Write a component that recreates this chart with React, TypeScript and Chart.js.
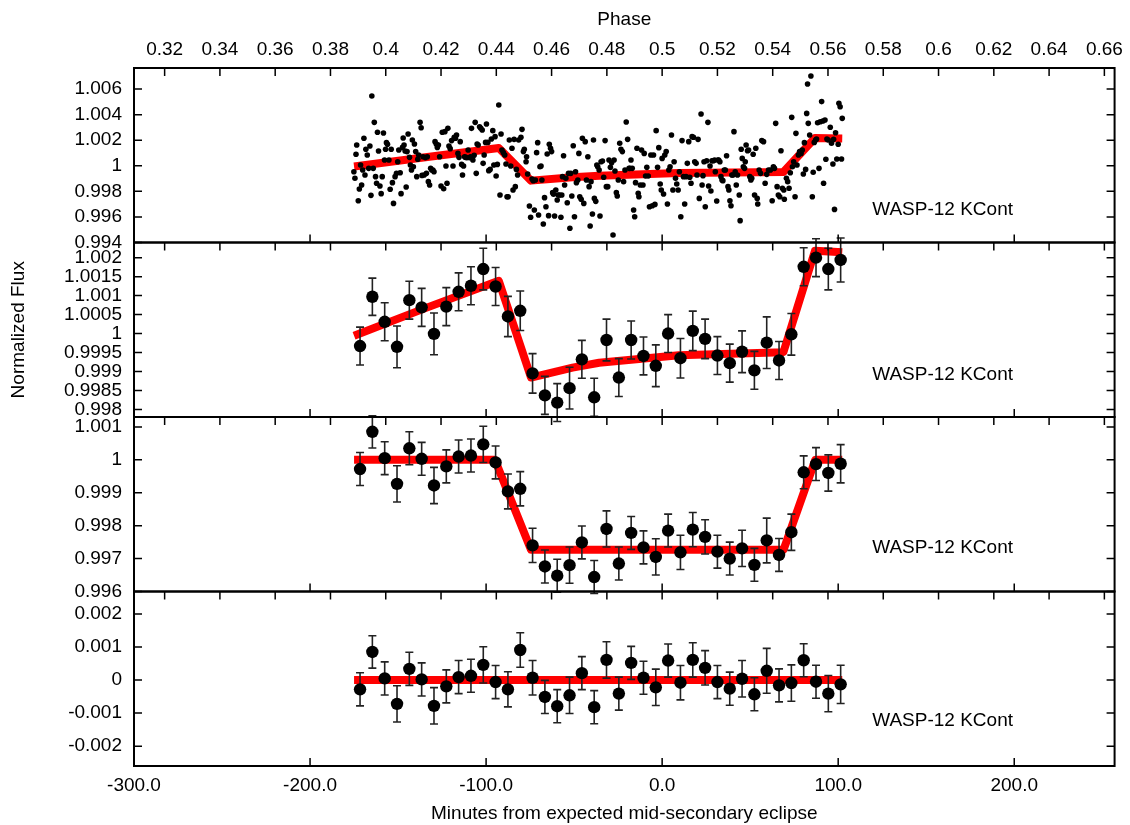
import { useEffect, useRef } from 'react';
import { Chart, registerables } from 'chart.js';

Chart.register(...registerables);

const FONT_FAMILY = "'Liberation Sans', Arial, Helvetica, sans-serif";
const FONT_SIZE = 19;

// ---------- axes ----------
const PERIOD_MIN = 1570; // orbital period in minutes (phase axis mapping)
const X_MIN = -300;
const X_MAX = 257;
const MINUTE_TICKS = [-300, -200, -100, 0, 100, 200];
const PHASE_TICKS = [0.32, 0.34, 0.36, 0.38, 0.4, 0.42, 0.44, 0.46, 0.48, 0.5, 0.52, 0.54, 0.56, 0.58, 0.6, 0.62, 0.64, 0.66];

const Y1_RANGE = [0.994, 1.00765];
const Y2_RANGE = [0.9978, 1.0024];
const Y3_RANGE = [0.996, 1.0013];
const Y4_RANGE = [-0.0026, 0.00268];
const Y1_TICKS = [0.994, 0.996, 0.998, 1, 1.002, 1.004, 1.006];
const Y2_TICKS = [0.998, 0.9985, 0.999, 0.9995, 1, 1.0005, 1.001, 1.0015, 1.002];
const Y3_TICKS = [0.996, 0.997, 0.998, 0.999, 1, 1.001];
const Y4_TICKS = [-0.002, -0.001, 0, 0.001, 0.002];

const PANEL_LABEL = 'WASP-12 KCont';

// ---------- unbinned light curve (minutes, flux) ----------
const RAW_A = [[-175.1,0.99954],[-174.5,0.99902],[-173.9,1.0009],[-173.5,1.00163],[-172.6,0.99727],[-172.0,0.99818],[-171.3,1.00006],[-170.7,0.9985],[-170.1,0.99967],[-169.4,1.00215],[-168.8,0.99928],[-168.3,1.00129],[-167.5,1.00084],[-166.7,0.9998],[-166.0,1.00155],[-165.4,0.99769],[-164.9,1.00546],[-164.1,0.9998],[-163.5,1.0034],[-162.8,0.99915],[-162.2,0.99863],[-161.7,1.00262],[-161.1,1.00116],[-160.3,0.99842],[-159.6,0.99782],[-159.0,0.99915],[-158.3,1.00256],[-157.7,1.00045],[-157.1,1.00129],[-156.6,1.00181],[-156.0,1.00168],[-155.2,1.00045],[-154.5,0.99816],[-153.9,1.00129],[-153.2,0.99868],[-152.6,0.99706],[-151.7,0.99915],[-150.9,0.99941],[-150.2,1.00032],[-149.6,1.00124],[-148.8,0.99946],[-148.3,0.99782],[-147.5,1.00144],[-147.1,1.00217],[-146.6,1.00163],[-146.0,1.00116],[-145.4,0.99834],[-144.9,1.00111],[-144.3,1.00249],[-143.5,1.00066],[-143.0,1.00006],[-142.4,0.99967],[-141.9,1.00202],[-141.3,0.99993],[-140.7,1.0017],[-140.0,1.00111],[-139.4,0.99915],[-138.8,1.00051],[-138.3,1.00084],[-137.5,1.0034],[-136.9,1.00298],[-136.4,0.99925],[-135.8,1.00071],[-135.2,0.99928],[-134.5,1.00064],[-133.9,0.99941],[-133.4,1.00071],[-132.8,0.99876],[-132.1,0.9985],[-131.5,0.9998],[-130.9,0.99967],[-130.2,0.99967],[-129.6,0.99954],[-129.0,1.00189],[-128.3,1.0017],[-127.7,1.00144],[-127.1,1.00163],[-126.4,1.00071],[-125.6,0.99842],[-124.9,1.00262],[-124.1,0.99821],[-123.4,1.00267],[-122.8,0.99998],[-122.2,0.99863],[-121.7,1.00293],[-121.1,1.00155],[-120.4,1.00134],[-119.6,1.00197],[-118.8,0.99998],[-118.1,1.00223],[-117.4,1.00215],[-116.8,1.00241],[-116.0,1.00097],[-115.4,1.00066],[-114.7,1.00189],[-113.9,1.00011],[-113.4,0.99928],[-112.8,0.99998],[-112.2,1.00071],[-111.7,1.00066],[-110.9,1.00064],[-110.2,1.00124],[-109.4,1.00064],[-108.8,1.00071],[-108.3,1.00293],[-107.5,1.00045],[-106.8,1.00082],[-106.2,1.0034],[-105.6,0.99941],[-105.1,1.0017],[-104.5,1.00163],[-103.7,1.00306],[-103.0,1.00293],[-102.2,1.0028],[-101.7,1.00019],[-101.1,1.00084],[-100.3,1.00183],[-99.8,1.00327],[-99.0,1.00183],[-98.5,0.99962],[-97.7,0.99972],[-97.0,1.0021],[-96.2,1.00275],[-95.6,1.00006],[-94.9,1.00228],[-94.3,0.9992],[-93.6,1.00011],[-92.8,1.00476],[-92.1,0.99771],[-91.5,1.00249],[-91.0,1.00124],[-90.2,1.00103],[-89.4,1.00084],[-88.7,1.00014],[-88.1,0.99758],[-87.5,0.99758],[-86.8,1.00202],[-86.0,0.99998],[-85.3,1.00137],[-84.7,0.99811],[-84.1,1.00207],[-83.4,0.99837],[-82.8,0.99972],[-82.1,0.99928],[-81.5,1.00202]];
const RAW_B = [[-80.2,1.00223],[-79.6,1.00285],[-78.8,1.00111],[-78.3,1.00129],[-77.3,1.00032],[-77.0,1.00071],[-76.4,0.99936],[-75.4,0.99685],[-74.7,0.99597],[-73.9,0.99897],[-73.2,0.99884],[-72.6,0.99654],[-72.0,0.99889],[-71.3,1.00103],[-70.7,1.00181],[-70.2,0.99615],[-69.4,0.99993],[-68.8,0.99998],[-68.3,0.99889],[-67.5,0.99545],[-66.8,0.99751],[-66.0,0.9968],[-65.3,1.00092],[-64.5,0.9961],[-64.1,1.00168],[-63.4,1.00137],[-62.8,1.00111],[-62.2,0.9979],[-61.7,0.99777],[-61.1,0.99607],[-60.4,0.99811],[-59.6,0.99732],[-59.0,0.99771],[-58.3,0.99771],[-57.5,0.99597],[-57.0,0.99771],[-56.6,0.99915],[-56.0,1.00079],[-55.4,0.9985],[-54.7,0.99902],[-53.9,0.99711],[-53.2,0.99941],[-52.4,0.99511],[-51.9,0.99941],[-51.3,0.99764],[-50.5,1.00157],[-49.8,0.99602],[-49.2,0.99954],[-48.7,0.99868],[-47.9,0.99889],[-47.3,1.00097],[-46.8,0.99758],[-46.0,0.99738],[-45.3,1.00215],[-44.5,0.99706],[-43.7,1.00189],[-43.0,0.99889],[-42.2,1.00071],[-41.5,0.99837],[-40.9,0.99529],[-40.4,0.99876],[-39.6,0.99623],[-39.0,1.00202],[-38.5,0.99745],[-37.7,0.99722],[-37.1,1.00006],[-36.6,0.99993],[-35.8,0.99967],[-35.3,0.99607],[-34.7,1.00032],[-33.9,1.00037],[-33.2,0.9991],[-32.4,1.00197],[-31.7,0.99837],[-30.9,0.99837],[-30.2,1.00045],[-29.4,0.99988],[-28.7,1.00024],[-27.9,0.99459],[-27.3,1.00045],[-26.8,0.99959],[-26.0,0.9979],[-25.5,0.99764],[-24.9,0.99889],[-24.1,1.00176],[-23.4,1.00129],[-22.6,1.00111],[-21.9,0.99876],[-21.1,0.99967],[-20.4,1.00343],[-19.6,1.00207],[-18.8,0.9998],[-18.3,0.9998],[-17.7,1.00045],[-17.0,0.9998],[-16.2,0.99654],[-15.6,0.99602],[-15.1,0.99868],[-14.3,1.00137],[-13.6,0.99785],[-13.2,0.99758],[-12.4,0.9985],[-11.7,1.00124],[-10.9,0.9985],[-10.2,1.00097],[-9.4,0.9992],[-8.7,0.99988],[-7.9,0.9992],[-7.2,0.9968],[-6.4,1.00084],[-5.6,0.99688],[-4.9,1.00084],[-4.1,0.99698],[-3.4,1.00275],[-2.6,0.99988],[-1.9,1.00142],[-1.1,0.99858],[-0.5,0.99811],[0.0,1.00058],[0.8,0.99779],[1.5,1.00084],[2.3,1.00111],[3.0,0.99701],[3.8,0.99967],[4.5,0.99993],[5.3,1.00241],[6.1,0.99811],[6.8,1.00032],[7.6,0.99902],[8.3,0.99858],[9.1,0.99811],[9.8,0.99954],[10.6,0.99602],[11.3,1.00197],[12.1,0.99915],[12.8,0.99701],[13.6,0.99915],[14.3,1.00019]];
const RAW_C = [[15.1,1.00189],[15.7,0.9991],[16.4,0.99863],[17.0,1.00228],[17.8,1.00223],[18.5,1.00032],[19.3,1.00019],[19.8,0.99928],[20.4,1.00207],[21.1,0.99745],[22.1,1.00405],[22.7,0.9985],[23.2,0.99923],[23.8,1.00032],[24.5,0.9968],[25.3,1.0004],[26.0,1.0034],[26.4,0.99842],[27.2,0.99998],[27.7,0.99803],[28.3,1.0004],[29.1,1.0004],[29.8,1.00045],[30.2,0.99954],[31.0,0.99725],[31.7,1.00045],[32.1,1.00045],[32.8,1.00032],[33.4,0.99915],[34.0,0.99889],[34.5,0.99884],[35.3,0.99967],[35.9,0.99967],[36.6,1.00079],[37.4,0.99837],[37.9,0.99811],[38.5,0.99727],[39.1,0.99688],[39.6,0.99928],[40.2,0.99928],[40.8,1.00267],[41.5,0.99954],[42.1,0.9985],[42.8,0.99928],[43.8,0.99771],[44.3,0.99571],[44.9,1.00129],[45.5,1.00058],[46.1,0.99993],[46.8,0.9998],[47.2,1.00032],[47.7,1.00163],[48.5,1.00118],[49.1,1.00124],[49.8,0.99915],[50.4,0.99889],[50.9,0.99902],[51.7,1.0009],[52.5,0.99771],[53.2,1.00137],[54.0,0.99745],[54.3,0.99701],[55.1,0.99967],[55.9,0.99941],[56.6,1.00197],[57.6,1.00189],[58.5,0.99863],[59.4,0.99933],[60.4,0.99967],[61.5,0.99967],[62.5,0.99727],[63.2,0.99993],[63.8,0.9998],[64.5,1.00332],[65.3,0.99837],[66.0,0.99771],[66.8,0.99758],[67.5,1.00118],[68.3,0.99824],[69.1,0.99811],[69.4,0.99738],[70.6,0.99902],[71.3,0.99876],[72.1,0.99824],[72.8,0.99946],[73.6,1.00379],[74.0,0.99993],[74.7,1.00032],[75.5,0.99758],[76.0,1.00254],[76.6,1.00006],[77.4,1.00084],[78.1,1.00111],[78.9,1.00097],[79.6,1.00124],[80.2,0.99936],[80.8,1.00181],[81.5,0.99972],[82.1,1.0041],[82.6,1.0064],[83.0,1.00332],[83.8,1.00241],[84.5,1.00702],[85.3,0.99758],[85.8,0.99949],[86.4,1.00183],[87.2,1.00202],[87.7,1.0021],[88.3,1.00337],[89.1,0.9998],[89.8,1.00345],[90.6,1.00502],[91.3,1.0035],[91.7,0.99863],[92.5,1.00358],[93.0,1.00051],[93.6,1.0021],[94.3,1.00202],[95.5,1.00301],[96.2,1.00176],[97.0,1.00014],[97.4,1.00207],[97.9,0.99659],[98.5,1.00259],[99.2,1.00053],[100.0,1.00168],[100.4,1.00489],[101.1,1.00462],[101.9,1.00053],[102.3,1.00371]];

// ---------- binned light curve ----------
const BIN_MIN = [-171.6, -164.6, -157.6, -150.6, -143.6, -136.6, -129.6, -122.6, -115.6, -108.6, -101.6, -94.6, -87.6, -80.6, -73.6, -66.6, -59.6, -52.6, -45.6, -38.6, -31.6, -24.6, -17.6, -10.6, -3.6, 3.4, 10.4, 17.4, 24.4, 31.4, 38.4, 45.4, 52.4, 59.4, 66.4, 73.4, 80.4, 87.4, 94.4, 101.4];
const BIN_FLUX = [0.99967, 1.00097, 1.00031, 0.99965, 1.00088, 1.00069, 0.99999, 1.00071, 1.0011, 1.00126, 1.0017, 1.00124, 1.00045, 1.0006, 0.99895, 0.99837, 0.99818, 0.99856, 0.99932, 0.99832, 0.99983, 0.99884, 0.99983, 0.99941, 0.99915, 1.0, 0.99935, 1.00007, 0.99986, 0.99942, 0.99922, 0.99952, 0.99903, 0.99976, 0.99929, 0.99998, 1.00176, 1.002, 1.0017, 1.00194];
const BIN_DETRENDED = [0.99972, 1.00085, 1.00005, 0.99927, 1.00035, 1.00003, 0.99922, 0.9998, 1.0001, 1.00013, 1.00047, 0.99992, 0.99904, 0.99912, 0.9974, 0.99676, 0.99648, 0.9968, 0.99749, 0.99644, 0.9979, 0.99685, 0.99778, 0.99734, 0.99705, 0.99785, 0.99719, 0.99788, 0.99766, 0.99721, 0.997, 0.99731, 0.99681, 0.99755, 0.99711, 0.9978, 0.99962, 0.99987, 0.9996, 0.99988];
const BIN_RESID = [-0.00028, 0.00085, 0.00005, -0.00072, 0.00034, 0.00002, -0.00078, -0.00019, 0.00009, 0.00013, 0.00046, -0.00006, -0.00028, 0.00091, 0.00007, -0.00051, -0.00079, -0.00046, 0.00021, -0.00082, 0.00061, -0.00041, 0.00052, 0.00007, -0.00022, 0.00059, -0.00008, 0.00061, 0.00037, -0.00006, -0.00026, 0.00004, -0.00043, 0.00028, -0.00016, -0.00009, 0.0006, -0.00005, -0.00041, -0.00013];
const BIN_ERR = [0.0005, 0.00049, 0.0005, 0.00055, 0.0005, 0.0005, 0.00055, 0.0005, 0.0005, 0.0005, 0.00055, 0.0005, 0.00053, 0.00052, 0.00052, 0.0005, 0.0005, 0.00055, 0.0005, 0.0005, 0.00055, 0.0005, 0.0005, 0.0005, 0.00055, 0.0005, 0.00052, 0.00052, 0.00052, 0.0005, 0.0005, 0.00055, 0.0005, 0.00068, 0.0005, 0.00055, 0.0005, 0.0005, 0.00055, 0.00058];

// ---------- fitted models ----------
const MODEL_MIN = [-175, -135.6, -92.8, -74.5, -50.9, -35.8, 9.5, 68.9, 86.8, 102.3];
const MODEL_FLUX = [0.99994, 1.00065, 1.00139, 0.99884, 0.9991, 0.99923, 0.99943, 0.99951, 1.00218, 1.00214];
const ECLIPSE_MIN = [-175, -95, -74.5, 69, 87, 102.3];
const ECLIPSE_FLUX = [1, 1, 0.99727, 0.99727, 1, 1];
const RESID_MODEL_MIN = [-175, 102.3];
const RESID_MODEL_FLUX = [0, 0];

// label vertical position inside each panel (fraction of panel height from top)
const LABEL_FRAC = [0.814, 0.759, 0.751, 0.742];

const pairs = (xs: number[], ys: number[]) => xs.map((x, i) => ({ x, y: ys[i] }));
const fmtG = (v: number) => String(Number(Number(v).toPrecision(6)));

const PANELS = [
  { axis: 'y1', range: Y1_RANGE, ticks: Y1_TICKS },
  { axis: 'y2', range: Y2_RANGE, ticks: Y2_TICKS },
  { axis: 'y3', range: Y3_RANGE, ticks: Y3_TICKS },
  { axis: 'y4', range: Y4_RANGE, ticks: Y4_TICKS },
];

const ERROR_SETS: Record<string, number[]> = { y2: BIN_FLUX, y3: BIN_DETRENDED, y4: BIN_RESID };

const framePlugin = {
  id: 'gnuFrames',
  afterDatasetDraw(chart: any, args: any) {
    const ds = chart.data.datasets[args.index];
    if (!ds.isModel) return;
    const axis = ds.yAxisID;
    const vals = ERROR_SETS[axis];
    if (!vals) return;
    const ctx = chart.ctx;
    const xs = chart.scales.x;
    const ys = chart.scales[axis];
    ctx.save();
    ctx.strokeStyle = '#222';
    ctx.lineWidth = 1.6;
    ctx.beginPath();
    vals.forEach((v, i) => {
      const px = xs.getPixelForValue(BIN_MIN[i]);
      const lo = ys.getPixelForValue(v - BIN_ERR[i]);
      const hi = ys.getPixelForValue(v + BIN_ERR[i]);
      ctx.moveTo(px, lo);
      ctx.lineTo(px, hi);
      ctx.moveTo(px - 4, lo);
      ctx.lineTo(px + 4, lo);
      ctx.moveTo(px - 4, hi);
      ctx.lineTo(px + 4, hi);
    });
    ctx.stroke();
    ctx.restore();
  },
  afterDraw(chart: any) {
    const ctx = chart.ctx;
    const xs = chart.scales.x;
    const xt = chart.scales.xTop;
    const { left, right } = chart.chartArea;
    const TL = 8;
    ctx.save();
    ctx.strokeStyle = '#000';
    ctx.lineWidth = 1.5;
    ctx.beginPath();
    PANELS.forEach((p) => {
      const s = chart.scales[p.axis];
      const top = s.top;
      const bottom = s.bottom;
      p.ticks.forEach((v) => {
        const y = s.getPixelForValue(v);
        ctx.moveTo(left, y);
        ctx.lineTo(left + TL, y);
        ctx.moveTo(right, y);
        ctx.lineTo(right - TL, y);
      });
      PHASE_TICKS.forEach((v) => {
        const x = xt.getPixelForValue(v);
        ctx.moveTo(x, top);
        ctx.lineTo(x, top + TL);
      });
      MINUTE_TICKS.forEach((v) => {
        const x = xs.getPixelForValue(v);
        ctx.moveTo(x, bottom);
        ctx.lineTo(x, bottom - TL);
      });
    });
    ctx.stroke();
    ctx.lineWidth = 2;
    PANELS.forEach((p) => {
      const s = chart.scales[p.axis];
      ctx.strokeRect(left, s.top, right - left, s.bottom - s.top);
    });
    ctx.fillStyle = '#000';
    ctx.font = `${FONT_SIZE}px ${FONT_FAMILY}`;
    ctx.textAlign = 'right';
    ctx.textBaseline = 'middle';
    PANELS.forEach((p, i) => {
      const s = chart.scales[p.axis];
      ctx.fillText(PANEL_LABEL, 1013, s.top + LABEL_FRAC[i] * (s.bottom - s.top));
    });
    ctx.restore();
  },
};

function yAxis(id: string, range: number[], ticks: number[], weight: number, title?: string) {
  return {
    type: 'linear',
    axis: 'y',
    position: 'left',
    stack: 'panels',
    stackWeight: 1,
    weight,
    min: range[0],
    max: range[1],
    grid: { display: false, drawTicks: false },
    border: { display: false },
    title: title
      ? { display: true, text: title, color: '#000', font: { size: FONT_SIZE }, padding: { top: 7, bottom: 0 } }
      : { display: false },
    ticks: { color: '#000', padding: 12, autoSkip: false, callback: (v: number) => fmtG(v) },
    afterBuildTicks: (s: any) => {
      s.ticks = ticks.map((v) => ({ value: v }));
    },
    afterFit: (s: any) => {
      s.width = 134;
    },
  };
}

export default function App() {
  const ref = useRef<HTMLCanvasElement>(null);

  useEffect(() => {
    const canvas = ref.current;
    if (!canvas) return;
    Chart.defaults.font.family = FONT_FAMILY;
    Chart.defaults.font.size = FONT_SIZE;
    Chart.defaults.color = '#000';

    const rawPoints = [...RAW_A, ...RAW_B, ...RAW_C].map(([x, y]) => ({ x, y }));

    const pointSet = (data: any[], axis: string, r: number) => ({
      type: 'scatter',
      data,
      yAxisID: axis,
      xAxisID: 'x',
      backgroundColor: '#000',
      borderColor: '#000',
      borderWidth: 0,
      pointRadius: r,
      pointHoverRadius: r,
      order: 0,
    });
    const modelSet = (data: any[], axis: string) => ({
      type: 'scatter',
      data,
      yAxisID: axis,
      xAxisID: 'x',
      showLine: true,
      borderColor: '#ff0000',
      backgroundColor: '#ff0000',
      borderWidth: 8,
      borderCapStyle: 'butt',
      borderJoinStyle: 'round',
      pointRadius: 0,
      tension: 0,
      order: 1,
      isModel: true,
    });

    const chart = new Chart(canvas, {
      type: 'scatter',
      data: {
        datasets: [
          pointSet(rawPoints, 'y1', 2.8),
          pointSet(pairs(BIN_MIN, BIN_FLUX), 'y2', 6.2),
          pointSet(pairs(BIN_MIN, BIN_DETRENDED), 'y3', 6.2),
          pointSet(pairs(BIN_MIN, BIN_RESID), 'y4', 6.2),
          modelSet(pairs(MODEL_MIN, MODEL_FLUX), 'y1'),
          modelSet(pairs(MODEL_MIN, MODEL_FLUX), 'y2'),
          modelSet(pairs(ECLIPSE_MIN, ECLIPSE_FLUX), 'y3'),
          modelSet(pairs(RESID_MODEL_MIN, RESID_MODEL_FLUX), 'y4'),
        ] as any,
      },
      options: {
        responsive: false,
        animation: false,
        devicePixelRatio: 1,
        layout: { padding: { left: 0, right: 13, top: 0, bottom: 0 } },
        plugins: { legend: { display: false }, tooltip: { enabled: false }, title: { display: false } },
        events: [],
        scales: {
          x: {
            type: 'linear',
            axis: 'x',
            position: 'bottom',
            min: X_MIN,
            max: X_MAX,
            grid: { display: false, drawTicks: false },
            border: { display: false },
            title: {
              display: true,
              text: 'Minutes from expected mid-secondary eclipse',
              color: '#000',
              font: { size: FONT_SIZE },
              padding: { top: 0, bottom: 0 },
            },
            ticks: { color: '#000', padding: 8, autoSkip: false, maxRotation: 0, callback: (v: number) => Number(v).toFixed(1) },
            afterBuildTicks: (s: any) => {
              s.ticks = MINUTE_TICKS.map((v) => ({ value: v }));
            },
            afterFit: (s: any) => {
              s.height = 59;
            },
          },
          xTop: {
            type: 'linear',
            axis: 'x',
            position: 'top',
            min: 0.5 + X_MIN / PERIOD_MIN,
            max: 0.5 + X_MAX / PERIOD_MIN,
            grid: { display: false, drawTicks: false },
            border: { display: false },
            title: { display: true, text: 'Phase', color: '#000', font: { size: FONT_SIZE }, padding: { top: 8, bottom: 0 } },
            ticks: { color: '#000', padding: 7, autoSkip: false, maxRotation: 0, callback: (v: number) => String(Number(Number(v).toFixed(2))) },
            afterBuildTicks: (s: any) => {
              s.ticks = PHASE_TICKS.map((v) => ({ value: v }));
            },
            afterFit: (s: any) => {
              s.height = 68;
            },
          },
          y1: yAxis('y1', Y1_RANGE, Y1_TICKS, 4),
          y2: yAxis('y2', Y2_RANGE, Y2_TICKS, 3, 'Normalized Flux'),
          y3: yAxis('y3', Y3_RANGE, Y3_TICKS, 2),
          y4: yAxis('y4', Y4_RANGE, Y4_TICKS, 1),
        } as any,
      },
      plugins: [framePlugin as any],
    });
    return () => chart.destroy();
  }, []);

  return (
    <div style={{ position: 'fixed', left: 0, top: 0, width: 1130, height: 825, background: '#fff' }}>
      <canvas ref={ref} width={1130} height={825} style={{ display: 'block', width: 1130, height: 825 }} />
    </div>
  );
}
